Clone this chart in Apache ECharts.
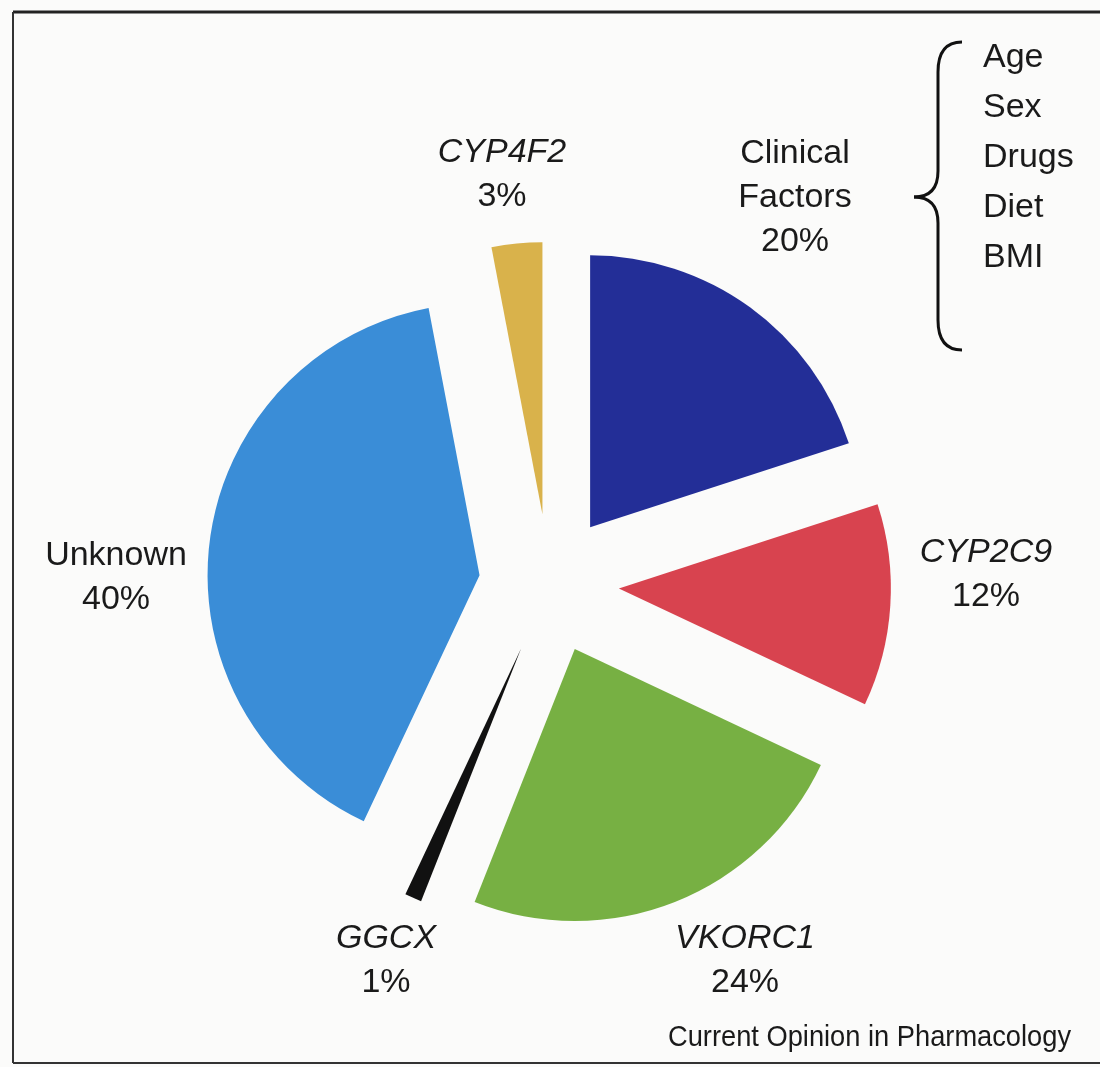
<!DOCTYPE html>
<html lang="en">
<head>
    <meta charset="UTF-8">
    <title>Warfarin dose variability</title>
    <style>
        html, body { margin: 0; padding: 0; background: #fbfbfa; }
        #pie { width: 1100px; height: 1067px; }
    </style>
</head>
<body>
<div id="pie"></div>
<script src="https://cdn.jsdelivr.net/npm/echarts@6/dist/echarts.min.js"></script>
<script>
    // data (percent of dose variability)
    var categories = ['Clinical Factors', 'CYP2C9', 'VKORC1', 'GGCX', 'Unknown', 'CYP4F2'];
    var shares = [20, 12, 24, 1, 40, 3];
    var genes = ['CYP2C9', 'VKORC1', 'GGCX', 'CYP4F2'];
    var clinicalFactors = ['Age', 'Sex', 'Drugs', 'Diet', 'BMI'];
    var source = 'Current Opinion in Pharmacology';

    var colors = ['#232e97', '#d8434f', '#77b043', '#111111', '#3a8dd7', '#d9b24b'];
    // where each label block sits (centre of the block)
    var labelPos = [[795, 198], [986, 575], [745, 961], [386, 961], [116, 578], [502, 175]];

    var font = '"Liberation Sans", Arial, Helvetica, sans-serif';

    var pieData = [];
    for (var i = 0; i < categories.length; i++) {
        pieData.push({
            name: categories[i],
            value: shares[i],
            selected: true,
            itemStyle: { color: colors[i] }
        });
    }

    var myChart = echarts.init(document.getElementById('pie'));

    var braceStyle = { stroke: '#111', lineWidth: 3, fill: null };
    function seg(x1, y1, x2, y2) {
        return { type: 'line', shape: { x1: x1, y1: y1, x2: x2, y2: y2 }, style: braceStyle };
    }
    function curve(x1, y1, cx, cy, x2, y2) {
        return { type: 'bezierCurve', shape: { x1: x1, y1: y1, cpx1: cx, cpy1: cy, x2: x2, y2: y2 }, style: braceStyle };
    }
    function label(txt, x, y, italic, align) {
        return {
            type: 'text',
            style: {
                text: txt, x: x, y: y,
                font: (italic ? 'italic ' : '') + '34px ' + font,
                fill: '#1a1a1a', textAlign: align || 'center', textVerticalAlign: 'middle'
            }
        };
    }

    // frame, brace + list of clinical factors, source line
    var graphics = [
        { type: 'line', shape: { x1: 13, y1: 12, x2: 1100, y2: 12 }, style: { stroke: '#222', lineWidth: 3 } },
        { type: 'line', shape: { x1: 13, y1: 12, x2: 13, y2: 1063 }, style: { stroke: '#333', lineWidth: 2 } },
        { type: 'line', shape: { x1: 13, y1: 1063, x2: 1100, y2: 1063 }, style: { stroke: '#333', lineWidth: 2 } },
        curve(962, 42, 938, 42, 938, 72),
        seg(938, 72, 938, 171),
        curve(938, 171, 938, 197, 914, 197),
        curve(914, 197, 938, 197, 938, 223),
        seg(938, 223, 938, 320),
        curve(938, 320, 938, 350, 962, 350),
        {
            type: 'text', x: 668, y: 1038, scaleX: 0.94,
            style: { text: source, x: 0, y: 0, font: '29px ' + font, fill: '#1a1a1a', textAlign: 'left', textVerticalAlign: 'middle' }
        }
    ];
    for (var k = 0; k < clinicalFactors.length; k++) {
        graphics.push(label(clinicalFactors[k], 983, 58 + k * 50, false, 'left'));
    }

    // slice labels: name (italic for genes) over the percentage
    for (var j = 0; j < categories.length; j++) {
        var lines = categories[j].split(' ');
        var isGene = genes.indexOf(categories[j]) >= 0;
        var n = lines.length + 1;
        var firstY = labelPos[j][1] - (n - 1) / 2 * 44;
        for (var m = 0; m < lines.length; m++) {
            graphics.push(label(lines[m], labelPos[j][0], firstY + m * 44, isGene));
        }
        graphics.push(label(shares[j] + '%', labelPos[j][0], firstY + lines.length * 44, false));
    }

    var option = {
        backgroundColor: '#fbfbfa',
        animation: false,
        graphic: graphics,
        series: [{
            type: 'pie',
            center: [549, 584],
            radius: [0, 272],
            startAngle: 90,
            clockwise: true,
            selectedMode: 'multiple',
            selectedOffset: 70,
            emphasis: { scale: false },
            label: { show: false },
            labelLine: { show: false },
            data: pieData
        }]
    };
    myChart.setOption(option);
</script>
</body>
</html>
